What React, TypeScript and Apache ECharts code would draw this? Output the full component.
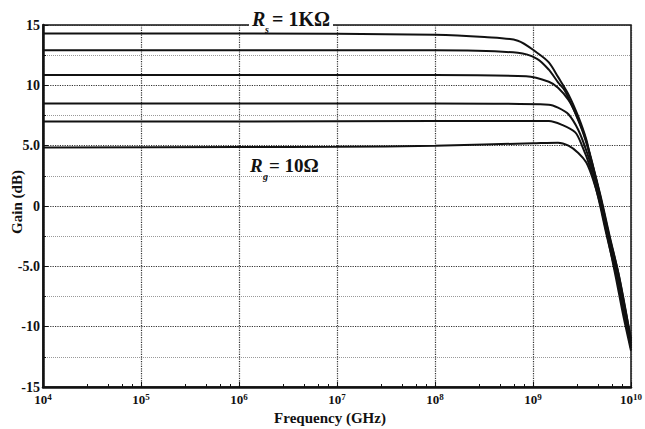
import React, { useEffect, useRef } from "react";
import * as echarts from "echarts";

// Frequency points and gain (dB) for each curve
const freq1 = [1e4, 1e6, 1e8, 3.2e8, 7e8, 1.1e9, 1.45e9, 1.8e9, 2.3e9, 2.9e9, 3.5e9, 3.9e9, 4.8e9, 6.0e9, 7.4e9, 8.7e9, 1e10];
const gain1 = [14.3, 14.3, 14.2, 14.0, 13.7, 12.7, 11.9, 10.7, 9.25, 7.4, 5.5, 3.8, 1.0, -2.5, -5.5, -8.5, -11.0];

const freq2 = [1e4, 1e6, 1e8, 7e8, 1.1e9, 1.45e9, 1.8e9, 2.1e9, 2.6e9, 3.3e9, 4.0e9, 4.9e9, 6.1e9, 7.5e9, 8.8e9, 1e10];
const gain2 = [12.9, 12.9, 12.9, 12.7, 12.2, 11.3, 10.25, 9.6, 8.0, 5.9, 3.6, 0.8, -2.6, -5.7, -8.6, -11.2];

const freq3 = [1e4, 1e6, 1e8, 8.5e8, 1.45e9, 1.8e9, 2.3e9, 2.7e9, 3.3e9, 3.9e9, 4.7e9, 5.8e9, 7.2e9, 8.5e9, 1e10];
const gain3 = [10.85, 10.85, 10.85, 10.75, 10.3, 9.8, 8.8, 7.75, 6.0, 4.0, 1.2, -2.2, -5.4, -8.3, -11.4];

const freq4 = [1e4, 1e6, 1e8, 1.45e9, 1.8e9, 2.3e9, 2.9e9, 3.5e9, 4.1e9, 4.9e9, 5.9e9, 7.2e9, 8.5e9, 1e10];
const gain4 = [8.5, 8.5, 8.5, 8.4, 8.15, 7.6, 6.3, 4.6, 2.8, 0.5, -2.5, -5.6, -8.6, -11.6];

const freq5 = [1e4, 1e6, 1e8, 1.45e9, 1.95e9, 2.7e9, 3.2e9, 3.8e9, 4.6e9, 5.6e9, 7.0e9, 8.4e9, 1e10];
const gain5 = [7.0, 7.0, 7.05, 7.05, 6.75, 6.1, 4.9, 3.3, 0.8, -2.3, -5.6, -8.7, -11.8];

const freq6 = [1e4, 1e6, 1e7, 1e8, 1e9, 1.8e9, 2.3e9, 2.9e9, 3.5e9, 4.1e9, 4.8e9, 5.8e9, 7.0e9, 8.3e9, 1e10];
const gain6 = [4.85, 4.88, 4.9, 5.0, 5.2, 5.25, 5.0, 4.4, 3.6, 2.2, 0.3, -2.7, -5.9, -9.0, -12.0];

const curves = [
  [freq1, gain1],
  [freq2, gain2],
  [freq3, gain3],
  [freq4, gain4],
  [freq5, gain5],
  [freq6, gain6],
];

const yTicks = [-15, -10, -5, 0, 5, 10, 15];
const yTickLabels = ["-15", "-10", "-5.0", "0", "5.0", "10", "15"];

const SERIF = "'Liberation Serif', 'DejaVu Serif', serif";

export default function App() {
  const ref = useRef<HTMLDivElement>(null);

  useEffect(() => {
    if (!ref.current) return;
    const chart = echarts.init(ref.current, undefined, { renderer: "svg" });

    const series = curves.map(([f, g]) => ({
      type: "line",
      data: f.map((x, i) => [x, g[i]]),
      showSymbol: false,
      smooth: 0.3,
      lineStyle: { color: "#111", width: 2 },
      z: 3,
    }));

    chart.setOption({
      animation: false,
      backgroundColor: "#fff",
      grid: {
        left: 43,
        right: 12,
        top: 25,
        bottom: 42,
        show: true,
        borderColor: "#111",
        borderWidth: 1.5,
        backgroundColor: "transparent",
      },
      xAxis: {
        type: "log",
        logBase: 10,
        min: 1e4,
        max: 1e10,
        axisLine: { show: true, onZero: false, lineStyle: { color: "#111", width: 2.5 } },
        axisTick: { show: true, inside: true, length: 5, lineStyle: { color: "#111" } },
        minorTick: { show: true, splitNumber: 5, length: 3, lineStyle: { color: "#111" } },
        splitLine: { show: true, lineStyle: { type: "dotted", color: "#333", width: 1.2 } },
        minorSplitLine: { show: false },
        axisLabel: {
          margin: 5,
          color: "#111",
          formatter: (v: number) => `{b|10}{s|${Math.round(Math.log10(v))}}`,
          rich: {
            b: { fontFamily: SERIF, fontWeight: "bold", fontSize: 13, color: "#111", lineHeight: 14 },
            s: { fontFamily: SERIF, fontWeight: "bold", fontSize: 9, color: "#111", verticalAlign: "top", lineHeight: 9 },
          },
        },
      },
      yAxis: {
        type: "value",
        min: -15,
        max: 15,
        interval: 5,
        axisLine: { show: true, onZero: false, lineStyle: { color: "#111", width: 2.5 } },
        axisTick: { show: true, inside: true, length: 5, lineStyle: { color: "#111" } },
        minorTick: { show: true, splitNumber: 2, length: 3, lineStyle: { color: "#111" } },
        splitLine: { show: true, lineStyle: { type: "dotted", color: "#333", width: 1.2 } },
        minorSplitLine: { show: true, lineStyle: { type: "dotted", color: "#999", width: 1 } },
        axisLabel: {
          margin: 3,
          color: "#111",
          fontFamily: SERIF,
          fontWeight: "bold",
          fontSize: 14,
          formatter: (v: number) => {
            const i = yTicks.indexOf(v);
            return i >= 0 ? yTickLabels[i] : String(v);
          },
        },
      },
      series,
      graphic: [
        { type: "rect", z: 100, shape: { x: 249, y: 18, width: 84, height: 12 }, style: { fill: "#fff" } },
        {
          type: "text", z: 101, x: 252, y: 19,
          style: { text: "R", fontFamily: SERIF, fontWeight: "bold", fontStyle: "italic", fontSize: 20, fill: "#111", verticalAlign: "middle" },
        },
        {
          type: "text", z: 101, x: 265, y: 29,
          style: { text: "s", fontFamily: SERIF, fontWeight: "bold", fontStyle: "italic", fontSize: 10, fill: "#111", verticalAlign: "middle" },
        },
        {
          type: "text", z: 101, x: 272, y: 19,
          style: { text: "= 1KΩ", fontFamily: SERIF, fontWeight: "bold", fontSize: 20, fill: "#111", verticalAlign: "middle" },
        },
        {
          type: "text", z: 101, x: 250, y: 165,
          style: { text: "R", fontFamily: SERIF, fontWeight: "bold", fontStyle: "italic", fontSize: 19, fill: "#111", verticalAlign: "middle" },
        },
        {
          type: "text", z: 101, x: 263, y: 176,
          style: { text: "g", fontFamily: SERIF, fontWeight: "bold", fontStyle: "italic", fontSize: 10, fill: "#111", verticalAlign: "middle" },
        },
        {
          type: "text", z: 101, x: 269, y: 165,
          style: { text: "= 10Ω", fontFamily: SERIF, fontWeight: "bold", fontSize: 19, fill: "#111", verticalAlign: "middle" },
        },
        {
          type: "text", z: 101, x: 330, y: 418,
          style: { text: "Frequency (GHz)", fontFamily: SERIF, fontWeight: "bold", fontSize: 15, fill: "#111", align: "center", verticalAlign: "middle" },
        },
        {
          type: "text", z: 101, x: 17, y: 202, rotation: Math.PI / 2,
          style: { text: "Gain (dB)", fontFamily: SERIF, fontWeight: "bold", fontSize: 15, fill: "#111", align: "center", verticalAlign: "middle" },
        },
      ],
    });

    return () => chart.dispose();
  }, []);

  return (
    <div
      ref={ref}
      style={{ position: "fixed", left: 0, top: 0, width: 645, height: 429, background: "#fff" }}
    />
  );
}
